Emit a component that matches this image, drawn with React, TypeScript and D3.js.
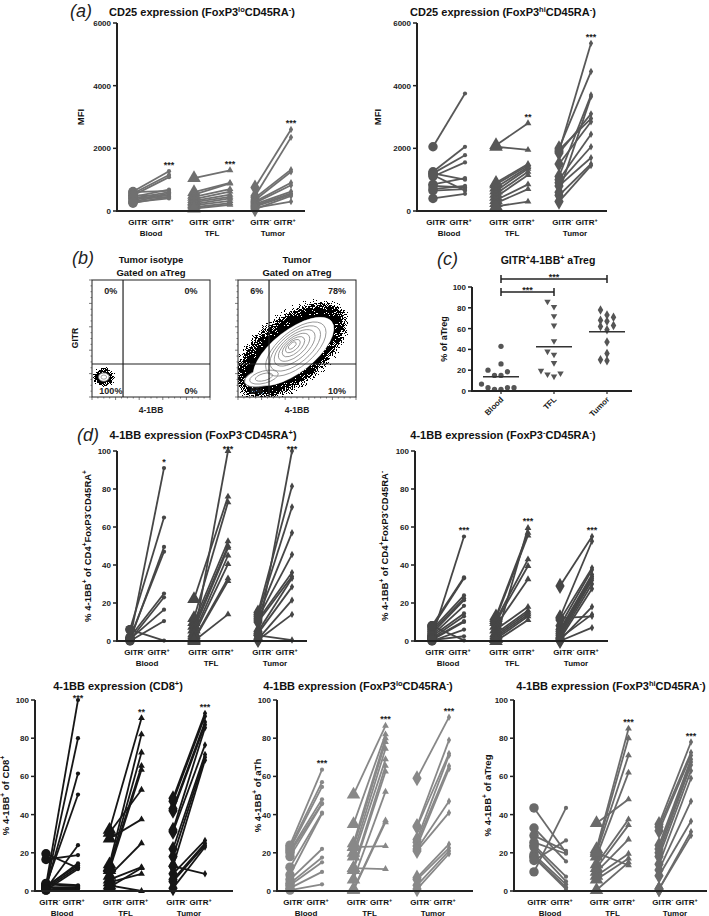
import React from 'react';
import * as d3 from 'd3';

type Pair = [number, number];

const groupNames = ['Blood', 'TFL', 'Tumor'];

// (a) CD25 MFI, FoxP3lo CD45RA-  : [GITR-, GITR+]
const cd25LoBlood: Pair[] = [[620, 1270], [560, 1150], [500, 1080], [450, 680], [600, 640], [400, 600], [350, 560], [300, 520], [500, 480], [250, 460], [420, 430], [280, 400]];
const cd25LoTFL: Pair[] = [[1050, 1300], [600, 900], [520, 880], [450, 700], [380, 620], [320, 520], [280, 450], [220, 400], [180, 320], [120, 250], [80, 200]];
const cd25LoTumor: Pair[] = [[750, 2600], [480, 2350], [420, 1320], [350, 1250], [300, 900], [260, 820], [220, 620], [180, 560], [140, 520], [100, 300], [60, 480]];

// (a) CD25 MFI, FoxP3hi CD45RA-
const cd25HiBlood: Pair[] = [[2050, 3750], [1250, 2050], [1200, 1780], [1100, 1550], [850, 1050], [1200, 1000], [800, 750], [650, 700], [700, 800], [400, 550], [1150, 650]];
const cd25HiTFL: Pair[] = [[2100, 2800], [2050, 1950], [900, 1500], [850, 1450], [750, 1400], [650, 1350], [550, 1250], [450, 1150], [350, 850], [250, 700], [150, 300]];
const cd25HiTumor: Pair[] = [[1900, 5350], [2000, 4450], [1100, 3700], [600, 3650], [1850, 3100], [1950, 2950], [1500, 2850], [1000, 2450], [900, 2050], [800, 1700], [500, 1500], [300, 1450]];

// (d) 4-1BB, FoxP3- CD45RA+
const raPosBlood: Pair[] = [[1, 91], [6, 65], [0.5, 49.5], [1.5, 47], [2, 25], [0.5, 23], [1, 16.5], [0, 10.5], [6, 0.2]];
const raPosTFL: Pair[] = [[2, 100], [22, 76], [12, 73], [10, 52.5], [8, 50], [6, 49], [4, 45], [3, 40.5], [1, 33], [0.5, 31.5], [0, 14]];
const raPosTumor: Pair[] = [[3, 100], [15, 81.5], [14, 70.5], [13, 57], [12, 45.5], [11, 36], [10, 34], [5, 33], [4, 28.5], [1, 21.5], [0.5, 14], [3, 0.5]];

// (d) 4-1BB, FoxP3- CD45RA-
const raNegBlood: Pair[] = [[2, 55], [8, 33.5], [7, 33], [6, 24], [5, 22.5], [4, 21.5], [3, 18.5], [2.5, 14.5], [1.5, 13], [1, 10.5], [0.5, 10], [0, 6], [0.5, 2.5], [8, 0.3]];
const raNegTFL: Pair[] = [[1, 59.5], [13, 57], [12, 55.5], [11, 43], [10, 39.5], [8, 32.5], [6, 18], [4, 16], [3, 15], [2, 14], [1, 13], [0, 11]];
const raNegTumor: Pair[] = [[29, 55], [12.5, 52.5], [11, 38.5], [8, 37.5], [6, 35], [5, 34], [4, 33], [3, 32], [2, 30], [1, 27.5], [0.5, 18], [1.5, 14], [12, 13], [0, 7]];

// 4-1BB, CD8+
const cd8Blood: Pair[] = [[3, 100], [2, 80], [1.5, 61.5], [3, 50.5], [1, 24], [16.5, 18.8], [2, 14.5], [2.5, 13.5], [1.5, 12.5], [19.5, 12], [0.5, 11.5], [4, 3], [3.5, 2.5], [2, 2], [1, 1.5], [0.5, 1]];
const cd8TFL: Pair[] = [[32, 90.5], [14, 82], [12.5, 72.5], [12, 65.5], [11, 63.5], [30.5, 53], [27.5, 37.5], [8, 25], [6, 12.5], [4.5, 9], [3, 0], [2, 12]];
const cd8Tumor: Pair[] = [[48.5, 93], [47, 91.5], [43, 88.5], [42, 87], [32, 85.5], [31, 76.5], [22, 71.5], [18, 70], [13, 68.5], [9, 26.5], [6, 25], [5, 24], [1.5, 23], [13, 9]];

// 4-1BB, FoxP3lo CD45RA- (aTh)
const aThBlood: Pair[] = [[24, 63.5], [23, 57], [22, 54.5], [21, 48], [20, 46], [18, 45.5], [12.5, 41], [8.5, 40.5], [6, 22], [4, 17.5], [3, 15], [1.5, 10], [0.5, 3.5]];
const aThTFL: Pair[] = [[50.5, 86.5], [35, 82], [25, 80], [23, 78], [20, 74.5], [18, 69], [12, 65.5], [11, 62.5], [6, 52], [1, 37], [0.5, 36], [23, 23.5], [12, 11.5]];
const aThTumor: Pair[] = [[59, 91], [34, 79], [33.5, 72], [27, 71], [25.5, 65.5], [23.5, 64], [22, 47], [21, 41], [7, 24.5], [6, 22.5], [3, 21], [1, 19.5]];

// 4-1BB, FoxP3hi CD45RA- (aTreg)
const aTregBlood: Pair[] = [[43.5, 20], [33, 15.5], [29, 21], [25.5, 19.5], [24, 7.5], [23, 5], [19, 3.5], [18, 2], [17.5, 1], [16, 26.5], [10, 43.5]];
const aTregTFL: Pair[] = [[35.5, 48], [22, 85], [21, 80], [20, 71], [18, 62], [14, 37.5], [12, 34.5], [10, 27], [8, 19.5], [6, 17], [0.5, 15], [20, 13.5]];
const aTregTumor: Pair[] = [[35, 78], [33.5, 72.5], [31.5, 71], [24, 69], [22, 67.5], [20, 66], [18, 63], [14, 59], [11, 47], [8, 36.5], [1, 31], [1, 29]];

// (c) GITR+4-1BB+ aTreg, % of aTreg
const cBlood = [43, 26, 18.5, 15, 15, 20, 6.7, 3.2, 3.2, 1.6, 1.6, 3.2];
const cTFL = [86, 81, 72, 63, 48, 35, 38, 27, 17, 14, 16, 19.5];
const cTumor = [78, 71, 73, 67, 68, 62, 63, 59, 47, 36, 30, 29];
const cMedians = [13.7, 42.5, 57];

const mfiTicks = [0, 2000, 4000, 6000];
const pctTicks = [0, 20, 40, 60, 80, 100];

// (b) flow quadrant percentages [UL, UR, LL, LR]
const isotypePct = ['0%', '0%', '100%', '0%'];
const tumorPct = ['6%', '78%', '6%', '10%'];
const gateX = 0.263;
const gateY = 0.282;
// contour ellipses [cx, cy, rx, ry, angle] in plot units
const tumorWhite = [[0.47, 0.39, 0.41, 0.18, 38], [0.22, 0.17, 0.17, 0.075, 15]];
const tumorContours = [
  [0.49, 0.41, 0.31, 0.15, 40], [0.485, 0.415, 0.26, 0.125, 40], [0.48, 0.42, 0.21, 0.10, 40],
  [0.475, 0.425, 0.16, 0.078, 40], [0.47, 0.43, 0.115, 0.057, 40], [0.465, 0.435, 0.075, 0.038, 40],
  [0.46, 0.44, 0.04, 0.02, 40],
  [0.22, 0.17, 0.125, 0.052, 15], [0.22, 0.17, 0.075, 0.03, 15],
];
const tumorBlack = [[0.45, 0.40, 0.55, 0.29, 38]];
const isoBlack = [[0.10, 0.17, 0.085, 0.08, 0]];
const isoWhite = [[0.10, 0.17, 0.045, 0.036, 0]];
const isoContours = [[0.10, 0.17, 0.024, 0.018, 0]];

const FONT = '"Liberation Sans", Arial, Helvetica, sans-serif';

function Rich({ text, x = 0, y = 0, size, anchor = 'middle', weight = 'bold', rotate = 0, fill = '#111', dy = 0 }:
  { text: string; x?: number; y?: number; size: number; anchor?: string; weight?: string; rotate?: number; fill?: string; dy?: number }) {
  const tokens = text.split(/(\^\{[^}]*\})/).filter(s => s.length > 0);
  const shift = size * 0.4;
  let raised = false;
  const spans = tokens.map((tk, i) => {
    if (tk.startsWith('^{')) {
      const d = raised ? 0 : -shift;
      raised = true;
      return <tspan key={i} dy={d} fontSize={size * 0.68}>{tk.slice(2, -1)}</tspan>;
    }
    const d = raised ? shift : 0;
    raised = false;
    return <tspan key={i} dy={d}>{tk}</tspan>;
  });
  return (
    <text transform={`translate(${x},${y}) rotate(${rotate})`} dy={dy} textAnchor={anchor as any}
      fontSize={size} fontWeight={weight} fontFamily={FONT} fill={fill}>{spans}</text>
  );
}

interface Spec {
  left: number; right: number; top: number; bottom: number; yMax: number; ticks: number[];
  off: number; step: number; dx: number; color: string; title: string; titleX: number; titleY: number;
  ylabel: string; ylabelX: number; data: Pair[][]; stars: string[];
}

const symbolTypes = [d3.symbolCircle, d3.symbolTriangle, d3.symbolDiamond];
const bigSizes = [70, 80, 75];
const smallSizes = [14, 20, 16];

function BeforeAfter({ s }: { s: Spec }) {
  const y = d3.scaleLinear().domain([0, s.yMax]).range([s.bottom, s.top]);
  const gx = d3.scaleLinear().domain([0, 2]).range([s.left + s.off, s.left + s.off + 2 * s.step]);
  const axisColor = '#222';
  return (
    <g>
      <Rich text={s.title} x={s.titleX} y={s.titleY} size={11} />
      <Rich text={s.ylabel} x={s.ylabelX} y={(s.top + s.bottom) / 2} size={9.5} rotate={-90} dy={3.3} />
      {s.data.map((pairs, gi) => {
        const cx = gx(gi);
        const big = d3.symbol().type(symbolTypes[gi]).size(bigSizes[gi])() || '';
        const small = d3.symbol().type(symbolTypes[gi]).size(smallSizes[gi])() || '';
        const maxPos = d3.max(pairs, p => p[1]) || 0;
        return (
          <g key={gi}>
            {pairs.map((p, i) => (
              <line key={'l' + i} x1={cx - s.dx} y1={y(p[0])} x2={cx + s.dx} y2={y(p[1])} stroke={s.color} strokeWidth={1.8} />
            ))}
            {pairs.map((p, i) => (
              <path key={'b' + i} d={big} transform={`translate(${cx - s.dx},${y(p[0])})`} fill={s.color} />
            ))}
            {pairs.map((p, i) => (
              <path key={'s' + i} d={small} transform={`translate(${cx + s.dx},${y(p[1])})`} fill={s.color} />
            ))}
            {s.stars[gi] && (
              <text x={cx + s.dx} y={Math.max(y(maxPos) - 3.5, s.top + 0.5)} textAnchor="middle" fontSize={9} fontWeight="bold" fontFamily={FONT} fill="#222">{s.stars[gi]}</text>
            )}
            <Rich text={'GITR^{-} GITR^{+}'} x={cx} y={s.bottom + 14} size={8} />
            <Rich text={groupNames[gi]} x={cx} y={s.bottom + 24.5} size={8} />
          </g>
        );
      })}
      <line x1={s.left} y1={s.bottom} x2={s.right} y2={s.bottom} stroke={axisColor} strokeWidth={2} />
      <line x1={s.left} y1={y(0) + 1} x2={s.left} y2={y(s.yMax)} stroke={axisColor} strokeWidth={2} />
      {s.ticks.map(t => (
        <g key={t}>
          <line x1={s.left - 4} x2={s.left} y1={y(t)} y2={y(t)} stroke={axisColor} strokeWidth={1.5} />
          <text x={s.left - 6} y={y(t)} dy={3} textAnchor="end" fontSize={8} fontWeight="bold" fontFamily={FONT} fill="#222">{t}</text>
        </g>
      ))}
    </g>
  );
}

function ellipseEl(e: number[], sx: d3.ScaleLinear<number, number>, sy: d3.ScaleLinear<number, number>, key: string, props: any) {
  const [cx, cy, rx, ry, ang] = e;
  const kx = Math.abs(sx(1) - sx(0));
  const ky = Math.abs(sy(1) - sy(0));
  return <ellipse key={key} cx={0} cy={0} rx={rx * kx} ry={ry * ky}
    transform={`translate(${sx(cx)},${sy(cy)}) rotate(${-ang})`} {...props} />;
}

function FlowBox({ x0, x1, y0, y1, pct, black, white, contours, title1, title2, filterId }:
  { x0: number; x1: number; y0: number; y1: number; pct: string[]; black: number[][]; white: number[][]; contours: number[][]; title1: string; title2: string; filterId: string }) {
  const sx = d3.scaleLinear().domain([0, 1]).range([x0, x1]);
  const sy = d3.scaleLinear().domain([0, 1]).range([y1, y0]);
  const minor = d3.range(0, 1.0001, 0.05);
  const cxm = (x0 + x1) / 2;
  const clipId = `clip${x0}`;
  return (
    <g>
      <defs>
        <clipPath id={clipId}><rect x={x0} y={y0} width={x1 - x0} height={y1 - y0} /></clipPath>
      </defs>
      <Rich text={title1} x={cxm} y={263} size={9.5} />
      <Rich text={title2} x={cxm} y={276} size={9.5} />
      <g clipPath={`url(#${clipId})`}>
        <g filter={`url(#${filterId})`}>
          {black.map((e, i) => ellipseEl(e, sx, sy, 'k' + i, { fill: '#000' }))}
        </g>
        {white.map((e, i) => ellipseEl(e, sx, sy, 'w' + i, { fill: '#fff', stroke: '#777', strokeWidth: 0.8 }))}
        {white.length > 1 && ellipseEl(white[0], sx, sy, 'wf', { fill: '#fff' })}
        {contours.map((e, i) => ellipseEl(e, sx, sy, 'c' + i, { fill: 'none', stroke: '#888', strokeWidth: 0.8 }))}
      </g>
      <rect x={x0} y={y0} width={x1 - x0} height={y1 - y0} fill="none" stroke="#222" strokeWidth={1} />
      <line x1={sx(gateX)} x2={sx(gateX)} y1={y0} y2={y1} stroke="#222" strokeWidth={1.2} />
      <line x1={x0} x2={x1} y1={sy(gateY)} y2={sy(gateY)} stroke="#222" strokeWidth={1.2} />
      {minor.map((t, i) => (
        <g key={i}>
          <line x1={x0} x2={x0 - (i % 4 === 0 ? 3 : 1.5)} y1={sy(t)} y2={sy(t)} stroke="#444" strokeWidth={0.7} />
          <line y1={y1} y2={y1 + (i % 4 === 0 ? 3 : 1.5)} x1={sx(t)} x2={sx(t)} stroke="#444" strokeWidth={0.7} />
        </g>
      ))}
      <text x={sx(0.16)} y={y0 + 14} textAnchor="middle" fontSize={9} fontWeight="bold" fontFamily={FONT} fill="#222">{pct[0]}</text>
      <text x={sx(0.84)} y={y0 + 14} textAnchor="middle" fontSize={9} fontWeight="bold" fontFamily={FONT} fill="#222">{pct[1]}</text>
      <text x={sx(0.16)} y={y1 - 3} textAnchor="middle" fontSize={9} fontWeight="bold" fontFamily={FONT} fill="#222">{pct[2]}</text>
      <text x={sx(0.84)} y={y1 - 3} textAnchor="middle" fontSize={9} fontWeight="bold" fontFamily={FONT} fill="#222">{pct[3]}</text>
      <text x={cxm} y={y1 + 16} textAnchor="middle" fontSize={8.5} fontWeight="bold" fontFamily={FONT} fill="#222">4-1BB</text>
    </g>
  );
}

function dodge(values: number[], y: (v: number) => number, cx: number, spacing: number, r: number) {
  const placed: { x: number; y: number }[] = [];
  const order = values.map((v, i) => ({ v, i })).sort((a, b) => a.v - b.v);
  const out: { x: number; y: number }[] = new Array(values.length);
  order.forEach(({ v, i }) => {
    const py = y(v);
    for (let k = 0; k < 40; k++) {
      const o = k === 0 ? 0 : (k % 2 ? -1 : 1) * Math.ceil(k / 2);
      const px = cx + o * spacing;
      if (!placed.some(p => Math.hypot(p.x - px, p.y - py) < 2 * r + 1)) {
        placed.push({ x: px, y: py });
        out[i] = { x: px, y: py };
        return;
      }
    }
    out[i] = { x: cx, y: py };
  });
  return out;
}

function PanelC() {
  const left = 472, right = 632, top = 287, bottom = 391;
  const y = d3.scaleLinear().domain([0, 100]).range([bottom, top]);
  const x = d3.scalePoint<string>().domain(groupNames).range([501, 607]);
  const col = '#555';
  const sets = [cBlood, cTFL, cTumor];
  const syms = [
    d3.symbol().type(d3.symbolCircle).size(22)() || '',
    d3.symbol().type(d3.symbolTriangle).size(18)() || '',
    d3.symbol().type(d3.symbolDiamond).size(26)() || '',
  ];
  const bx = (g: string) => x(g) as number;
  return (
    <g>
      <Rich text="GITR^{+}4-1BB^{+} aTreg" x={548} y={264} size={10.5} />
      <Rich text="% of aTreg" x={447} y={(top + bottom) / 2} size={9} rotate={-90} dy={3.2} />
      {sets.map((vals, gi) => {
        const pts = dodge(vals, y, bx(groupNames[gi]), 6.5, 2.6);
        return (
          <g key={gi}>
            {pts.map((p, i) => (
              <path key={i} d={syms[gi]} transform={`translate(${p.x},${p.y}) rotate(${gi === 1 ? 180 : 0})`} fill={col} />
            ))}
            <line x1={bx(groupNames[gi]) - 18} x2={bx(groupNames[gi]) + 18} y1={y(cMedians[gi])} y2={y(cMedians[gi])} stroke="#333" strokeWidth={1.5} />
            <line x1={bx(groupNames[gi])} x2={bx(groupNames[gi])} y1={bottom} y2={bottom + 3} stroke="#222" strokeWidth={1.2} />
            <text transform={`translate(${bx(groupNames[gi]) + 3},${bottom + 9}) rotate(-45)`} textAnchor="end" fontSize={8} fontWeight="bold" fontFamily={FONT} fill="#222">{groupNames[gi]}</text>
          </g>
        );
      })}
      <line x1={left} x2={right} y1={bottom} y2={bottom} stroke="#222" strokeWidth={2} />
      <line x1={left} x2={left} y1={bottom + 1} y2={top} stroke="#222" strokeWidth={2} />
      {pctTicks.map(t => (
        <g key={t}>
          <line x1={left - 4} x2={left} y1={y(t)} y2={y(t)} stroke="#222" strokeWidth={1.5} />
          <text x={left - 6} y={y(t)} dy={3} textAnchor="end" fontSize={8} fontWeight="bold" fontFamily={FONT} fill="#222">{t}</text>
        </g>
      ))}
      {[[0, 2, 279], [0, 1, 292]].map(([a, b, yy], i) => (
        <g key={i}>
          <path d={`M${bx(groupNames[a])},${yy}H${bx(groupNames[b])}`} fill="none" stroke="#222" strokeWidth={1.5} />
          <path d={`M${bx(groupNames[a])},${yy - 4}V${yy + 4}M${bx(groupNames[b])},${yy - 4}V${yy + 4}`} fill="none" stroke="#222" strokeWidth={1.5} />
          <text x={(bx(groupNames[a]) + bx(groupNames[b])) / 2} y={yy + 1} textAnchor="middle" fontSize={9} fontWeight="bold" fontFamily={FONT} fill="#222">***</text>
        </g>
      ))}
    </g>
  );
}

const specs: Spec[] = [
  { left: 117, right: 305, top: 23, bottom: 211, yMax: 6000, ticks: mfiTicks, off: 34, step: 61, dx: 18, color: '#707070',
    title: 'CD25 expression (FoxP3^{lo}CD45RA^{-})', titleX: 202, titleY: 16, ylabel: 'MFI', ylabelX: 84,
    data: [cd25LoBlood, cd25LoTFL, cd25LoTumor], stars: ['***', '***', '***'] },
  { left: 417, right: 607, top: 23, bottom: 211, yMax: 6000, ticks: mfiTicks, off: 32, step: 63, dx: 16, color: '#585858',
    title: 'CD25 expression (FoxP3^{hi}CD45RA^{-})', titleX: 503, titleY: 16, ylabel: 'MFI', ylabelX: 381,
    data: [cd25HiBlood, cd25HiTFL, cd25HiTumor], stars: ['', '**', '***'] },
  { left: 117, right: 307, top: 451, bottom: 641, yMax: 100, ticks: pctTicks, off: 30, step: 64, dx: 17, color: '#464646',
    title: '4-1BB expression (FoxP3^{-}CD45RA^{+})', titleX: 203, titleY: 439, ylabel: '% 4-1BB^{+} of CD4^{+}FoxP3^{-}CD45RA^{+}', ylabelX: 91,
    data: [raPosBlood, raPosTFL, raPosTumor], stars: ['*', '***', '***'] },
  { left: 415, right: 608, top: 451, bottom: 641, yMax: 100, ticks: pctTicks, off: 33, step: 64, dx: 16, color: '#464646',
    title: '4-1BB expression (FoxP3^{-}CD45RA^{-})', titleX: 503, titleY: 439, ylabel: '% 4-1BB^{+} of CD4^{+}FoxP3^{-}CD45RA^{-}', ylabelX: 388,
    data: [raNegBlood, raNegTFL, raNegTumor], stars: ['***', '***', '***'] },
  { left: 35, right: 233, top: 700, bottom: 891, yMax: 100, ticks: pctTicks, off: 27, step: 63.5, dx: 16, color: '#161616',
    title: '4-1BB expression (CD8^{+})', titleX: 118, titleY: 690, ylabel: '% 4-1BB^{+} of CD8^{+}', ylabelX: 9,
    data: [cd8Blood, cd8TFL, cd8Tumor], stars: ['***', '**', '***'] },
  { left: 277, right: 473, top: 700, bottom: 891, yMax: 100, ticks: pctTicks, off: 29, step: 63.5, dx: 16, color: '#888888',
    title: '4-1BB expression (FoxP3^{lo}CD45RA^{-})', titleX: 358, titleY: 690, ylabel: '% 4-1BB^{+} of aTh', ylabelX: 261,
    data: [aThBlood, aThTFL, aThTumor], stars: ['***', '***', '***'] },
  { left: 514, right: 707, top: 700, bottom: 891, yMax: 100, ticks: pctTicks, off: 36, step: 62.5, dx: 16, color: '#6a6a6a',
    title: '4-1BB expression (FoxP3^{hi}CD45RA^{-})', titleX: 611, titleY: 690, ylabel: '% 4-1BB^{+} of aTreg', ylabelX: 491,
    data: [aTregBlood, aTregTFL, aTregTumor], stars: ['', '***', '***'] },
];

function SpeckFilter({ id, blur }: { id: string; blur: number }) {
  return (
    <filter id={id} x="-60%" y="-60%" width="220%" height="220%" colorInterpolationFilters="sRGB">
      <feGaussianBlur in="SourceGraphic" stdDeviation={blur} result="blur" />
      <feTurbulence type="fractalNoise" baseFrequency="1.1" numOctaves="1" seed="7" result="noise" />
      <feComponentTransfer in="noise" result="noiseS">
        <feFuncR type="linear" slope="3" intercept="-1" />
      </feComponentTransfer>
      <feColorMatrix in="noiseS" type="matrix" values="0 0 0 0 0  0 0 0 0 0  0 0 0 0 0  1 0 0 0 0" result="noiseA" />
      <feComposite in="blur" in2="noiseA" operator="arithmetic" k1="0" k2="1" k3="0.8" k4="-0.5" result="mix" />
      <feComponentTransfer in="mix">
        <feFuncA type="discrete" tableValues="0 1" />
      </feComponentTransfer>
    </filter>
  );
}

export default function App() {
  return (
    <svg width={709} height={916} viewBox="0 0 709 916" style={{ position: 'absolute', left: 0, top: 0, background: '#fff' }}>
      <defs>
        <SpeckFilter id="speck" blur={5} />
        <SpeckFilter id="speckIso" blur={2.2} />
      </defs>
      <rect width={709} height={916} fill="#fff" />
      {specs.map((s, i) => <BeforeAfter key={i} s={s} />)}

      <text x={70} y={17} fontSize={18} fontStyle="italic" fontFamily={FONT} fill="#222">(a)</text>
      <text x={72} y={264} fontSize={18} fontStyle="italic" fontFamily={FONT} fill="#222">(b)</text>
      <text x={437} y={265} fontSize={18} fontStyle="italic" fontFamily={FONT} fill="#222">(c)</text>
      <text x={77} y={441} fontSize={18} fontStyle="italic" fontFamily={FONT} fill="#222">(d)</text>

      <FlowBox x0={92} x1={210} y0={280} y1={397} pct={isotypePct} black={isoBlack} white={isoWhite} contours={isoContours}
        title1="Tumor isotype" title2="Gated on aTreg" filterId="speckIso" />
      <FlowBox x0={238} x1={356} y0={280} y1={397} pct={tumorPct} black={tumorBlack} white={tumorWhite} contours={tumorContours}
        title1="Tumor" title2="Gated on aTreg" filterId="speck" />
      <Rich text="GITR" x={78} y={338} size={8.5} rotate={-90} dy={3} />

      <PanelC />
    </svg>
  );
}
